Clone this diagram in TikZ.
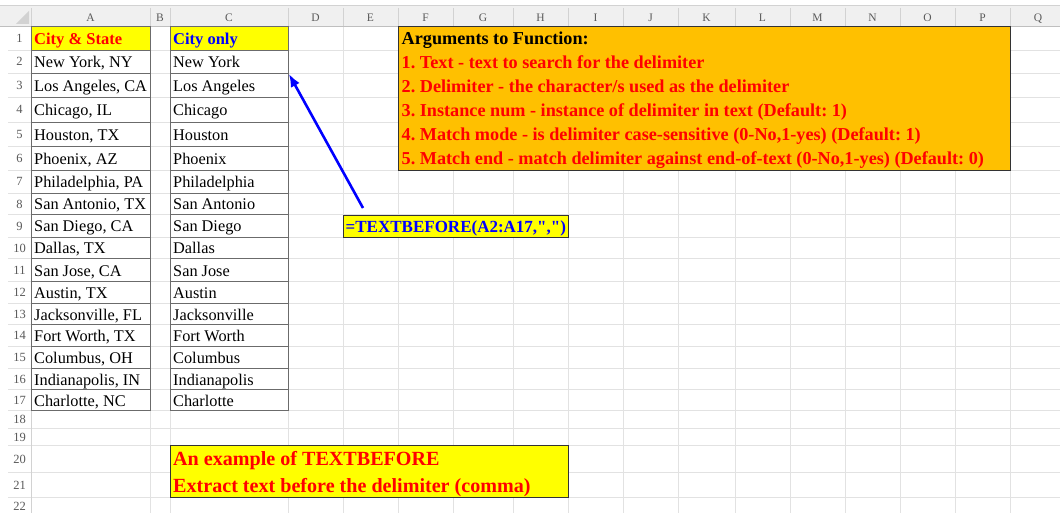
\documentclass[tikz,border=0pt]{standalone}
\usepackage{fontspec}
\setmainfont{Liberation Serif}[Ligatures=TeXOff]
\usetikzlibrary{arrows.meta}
\definecolor{gridgray}{HTML}{E2E2E2}
\definecolor{headfill}{HTML}{F0F0F0}
\definecolor{headline}{HTML}{D2D2D2}
\definecolor{headtext}{HTML}{5A5A5A}
\definecolor{framegray}{HTML}{6B6B6B}
\definecolor{xlyellow}{HTML}{FFFF00}
\definecolor{xlorange}{HTML}{FFC000}
\definecolor{xlred}{HTML}{FF0000}
\definecolor{xlblue}{HTML}{0000FF}
\definecolor{boxedge}{HTML}{333333}
\begin{document}
\frenchspacing
\begin{tikzpicture}[x=1pt,y=-1pt,
  gridline/.style={draw=gridgray,line width=0.8pt},
  headsep/.style={draw=headline,line width=0.8pt},
  headlabel/.style={font=\fontsize{11.5}{13}\selectfont,text=headtext,inner sep=0pt,anchor=base},
  rowlabel/.style={font=\fontsize{12.5}{14}\selectfont,text=headtext,inner sep=0pt,anchor=base},
  cellframe/.style={draw=framegray,line width=0.9pt,inner sep=0pt,anchor=north west},
  celltext/.style={font=\fontsize{16.3}{18}\selectfont,inner sep=0pt,anchor=base west},
  boldtext/.style={font=\bfseries\fontsize{#1}{#1}\selectfont,inner sep=0pt,anchor=base west},
  panel/.style={draw=boxedge,line width=1.4pt,inner sep=0pt,anchor=north west},
  pointer/.style={draw=xlblue,line width=2.6pt,-{Latex[length=13pt,width=10pt]}}
]
\useasboundingbox (0,0) rectangle (1060,513);
\fill[white] (0,0) rectangle (1060,513);

% column header band
\fill[headfill] (0,5) rectangle (1060,26);
\draw[headsep] (0,5) -- (1060,5);
\fill[headline] (29,11) -- (29,24) -- (16,24) -- cycle;

% sheet grid
\foreach \y in {50,73,97,122,146,170,193,214,237,258,281,303,324,346,368,389,410,428,445,472,497}
  \draw[gridline] (8,\y) -- (1060,\y);
\foreach \x in {150,170,288,343,398,453,513,568,623,678,735,790,845,900,955,1010}
  \draw[gridline] (\x,26) -- (\x,513);
\draw[headsep] (31,26) -- (31,513);
\foreach \x in {31,150,170,288,343,398,453,513,568,623,678,735,790,845,900,955,1010}
  \draw[headsep] (\x,8) -- (\x,26);
\draw[draw=black!25,line width=0.8pt] (0,26) -- (1060,26);

% column letters
\foreach \l/\x in {A/90.5,B/160,C/229,D/315.5,E/370.5,F/425.5,G/483,H/540.5,I/595.5,J/650.5,K/706.5,L/762.5,M/817.5,N/872.5,O/927.5,P/982.5,Q/1038}
  \node[headlabel] (col\l) at (\x,21.5) {\l};

% row numbers
\foreach \r/\c in {1/38,2/61.5,3/85,4/109.5,5/134,6/158,7/181.5,8/203.5,9/225.5,10/247.5,11/269.5,12/292,13/313.5,14/335,15/357,16/378.5,17/399.5,18/419,19/436.5,20/458.5,21/484.5,22/506}{
  \pgfmathsetmacro\bl{\c+4.5}
  \node[rowlabel] (row\r) at (19.5,\bl) {\r};
}

% header cells
\node[cellframe,fill=xlyellow,minimum width=119pt,minimum height=24pt] (a1) at (31,26) {};
\node[cellframe,fill=xlyellow,minimum width=118pt,minimum height=24pt] (c1) at (170,26) {};
\node[boldtext=16.5,text=xlred] (ta1) at (34,44.5) {City \& State};
\node[boldtext=16.5,text=xlblue] (tc1) at (173,44.5) {City only};

% data cells
\foreach \r/\t/\b/\ta/\tc in {
  2/50/73/{New York, NY}/{New York},
  3/73/97/{Los Angeles, CA}/{Los Angeles},
  4/97/122/{Chicago, IL}/{Chicago},
  5/122/146/{Houston, TX}/{Houston},
  6/146/170/{Phoenix, AZ}/{Phoenix},
  7/170/193/{Philadelphia, PA}/{Philadelphia},
  8/193/214/{San Antonio, TX}/{San Antonio},
  9/214/237/{San Diego, CA}/{San Diego},
  10/237/258/{Dallas, TX}/{Dallas},
  11/258/281/{San Jose, CA}/{San Jose},
  12/281/303/{Austin, TX}/{Austin},
  13/303/324/{Jacksonville, FL}/{Jacksonville},
  14/324/346/{Fort Worth, TX}/{Fort Worth},
  15/346/368/{Columbus, OH}/{Columbus},
  16/368/389/{Indianapolis, IN}/{Indianapolis},
  17/389/410/{Charlotte, NC}/{Charlotte}}{
  \pgfmathsetmacro\h{\b-\t}
  \pgfmathsetmacro\m{(\t+\b)/2+6.5}
  \node[cellframe,minimum width=119pt,minimum height=\h pt] (a\r) at (31,\t) {};
  \node[cellframe,minimum width=118pt,minimum height=\h pt] (c\r) at (170,\t) {};
  \node[celltext] (ta\r) at (34,\m) {\ta};
  \node[celltext] (tc\r) at (173,\m) {\tc};
}

% argument list panel
\node[panel,fill=xlorange,minimum width=612pt,minimum height=144pt] (args) at (398,26) {};
\node[boldtext=18.2] (arg0) at (401.5,44.5) {Arguments to Function:};
\node[boldtext=18.2,text=xlred] (arg1) at (401.5,68.3) {1. Text - text to search for the delimiter};
\node[boldtext=18.2,text=xlred] (arg2) at (401.5,92.5) {2. Delimiter - the character/s used as the delimiter};
\node[boldtext=18.2,text=xlred] (arg3) at (401.5,116.5) {3. Instance num - instance of delimiter in text (Default: 1)};
\node[boldtext=18.2,text=xlred] (arg4) at (401.5,140.8) {4. Match mode - is delimiter case-sensitive (0-No,1-yes) (Default: 1)};
\node[boldtext=18.2,text=xlred] (arg5) at (401.5,165) {5. Match end - match delimiter against end-of-text (0-No,1-yes) (Default: 0)};

% formula cell
\node[panel,fill=xlyellow,line width=1.2pt,minimum width=225pt,minimum height=22pt] (formula) at (343,215) {};
\node[boldtext=17,text=xlblue] (ftext) at (345.5,232.6) {=TEXTBEFORE(A2:A17,",")};

% note
\node[panel,fill=xlyellow,line width=1.2pt,minimum width=398pt,minimum height=52pt] (note) at (170,445) {};
\node[boldtext=20.1,text=xlred] (note1) at (173,465.6) {An example of TEXTBEFORE};
\node[boldtext=20.1,text=xlred] (note2) at (173,492.8) {Extract text before the delimiter (comma)};

% pointer from the formula to the result column
\coordinate (tail) at (363,208);
\draw[pointer] (tail) -- (c2.south east);
\end{tikzpicture}
\end{document}
